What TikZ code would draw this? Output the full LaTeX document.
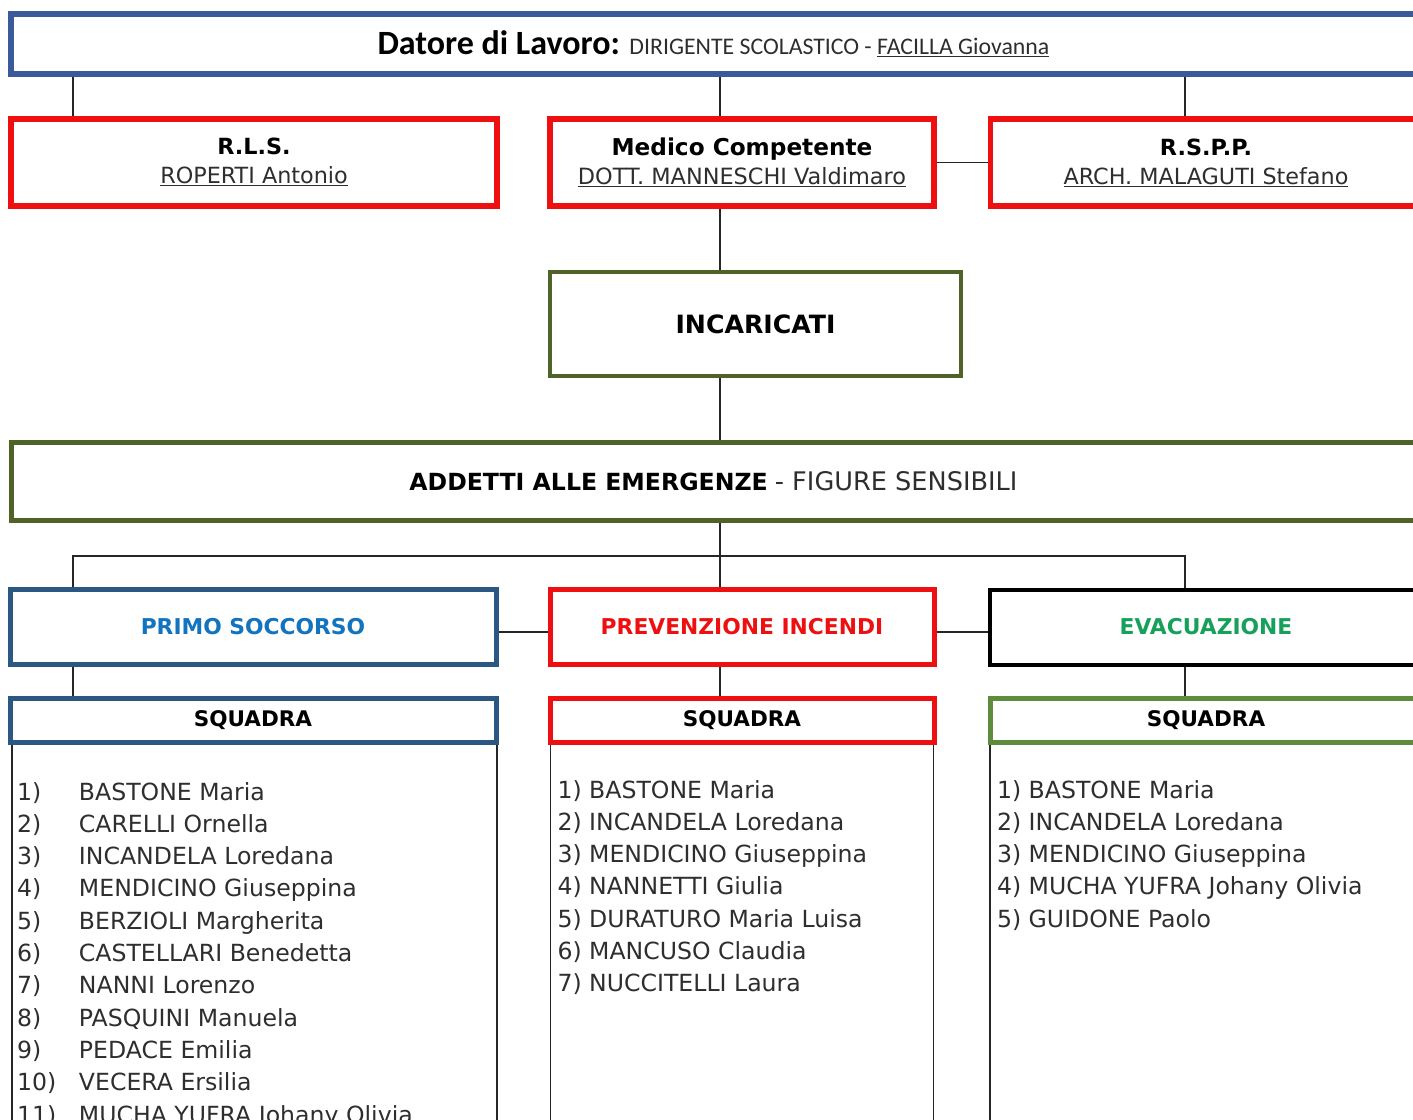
\documentclass[tikz,border=0pt]{standalone}
\usepackage{fontspec}
\setmainfont{DejaVu Sans}
\newfontfamily\calibri{Carlito}
\usetikzlibrary{positioning}
\definecolor{bossblue}{HTML}{3B5A9A}
\definecolor{alertred}{HTML}{EE1010}
\definecolor{olivegreen}{HTML}{4F6228}
\definecolor{firstaidblue}{HTML}{2B5783}
\definecolor{firstaidtext}{HTML}{1273BE}
\definecolor{evactext}{HTML}{16A05A}
\definecolor{teamgreen}{HTML}{5F8B3C}
\definecolor{namegray}{HTML}{2E2E2E}

\begin{document}
\begin{tikzpicture}[x=1pt, y=-1pt,
  font=\fontsize{22.3}{29}\selectfont,
  box/.style={draw, line width=5.5pt, align=center, inner sep=0pt, minimum height=87pt},
  head/.style={draw, line width=5pt, inner sep=0pt, minimum height=75pt,
    font=\bfseries\fontsize{21.8}{26}\selectfont},
  team/.style={draw, line width=5pt, inner sep=0pt, minimum height=44pt,
    font=\bfseries\fontsize{21.5}{26}\selectfont},
  roster/.style={inner sep=0pt, minimum height=600pt},
  names/.style={anchor=base west, inner sep=0pt, text=namegray,
    font=\fontsize{23.6}{32.3}\selectfont},
  link/.style={draw=black!85, line width=1.5pt}
]
\useasboundingbox (0,0) rectangle (1413,1119);
\clip (0,0) rectangle (1413,1119);

\coordinate (tapL) at (73,0);
\coordinate (spine) at (720,0);
\coordinate (tapR) at (1185,0);
\coordinate (bus) at (0,556);
\coordinate (rowB) at (0,632);

% top level
\node[box, draw=bossblue, line width=6pt, minimum width=1412pt, minimum height=60pt] (datore) at (717,44) {
  {\calibri\bfseries\fontsize{34}{40}\selectfont Datore di Lavoro:}
  {\calibri\fontsize{23.8}{28}\selectfont\color{namegray}DIRIGENTE SCOLASTICO - \underline{FACILLA Giovanna}}
};

\node[box, draw=alertred, minimum width=486pt, text depth=4pt] (rls) at (254,162.5) {
  \textbf{R.L.S.}\\
  {\color{namegray}\underline{ROPERTI Antonio}}
};
\node[box, draw=alertred, minimum width=384pt, font=\fontsize{22.4}{29}\selectfont] (medico) at (742,162.5) {
  {\bfseries\fontsize{23.2}{29}\selectfont Medico Competente}\\
  {\color{namegray}\underline{DOTT. MANNESCHI Valdimaro}}
};
\node[box, draw=alertred, minimum width=431pt] (rspp) at (1206,162.5) {
  \textbf{R.S.P.P.}\\
  {\color{namegray}\underline{ARCH. MALAGUTI Stefano}}
};

\node[box, draw=olivegreen, line width=4pt, minimum width=411pt, minimum height=104pt,
  font=\bfseries\fontsize{25.2}{30}\selectfont] (incaricati) at (755.5,324) {INCARICATI};

\node[box, draw=olivegreen, line width=5pt, minimum width=1412pt, minimum height=78pt] (addetti) at (717,481.5) {
  {\bfseries\fontsize{23.6}{28}\selectfont ADDETTI ALLE EMERGENZE}
  {\fontsize{25.6}{29}\selectfont\color{namegray}- FIGURE SENSIBILI}
};

% emergency groups
\node[head, draw=firstaidblue, text=firstaidtext, minimum width=486pt] (primo) at (253,627) {PRIMO SOCCORSO};
\node[head, draw=alertred, text=alertred, minimum width=384pt] (prev) at (742,627) {PREVENZIONE INCENDI};
\node[head, draw=black, line width=4pt, text=evactext, minimum width=432pt] (evac) at (1206,627) {EVACUAZIONE};

\node[team, draw=firstaidblue, minimum width=486pt] (psq) at (253,720.5) {SQUADRA};
\node[team, draw=alertred, minimum width=384pt] (pisq) at (742,720.5) {SQUADRA};
\node[team, draw=teamgreen, minimum width=432pt] (evsq) at (1206,720.5) {SQUADRA};

\node[roster, minimum width=485pt, below=0pt of psq, xshift=1.5pt] (pslist) {};
\node[roster, minimum width=383pt, below=0pt of pisq] (pilist) {};
\node[roster, minimum width=432pt, below=0pt of evsq] (evlist) {};
\draw[link] (pslist.north west) -- (pslist.south west) (pslist.north east) -- (pslist.south east);
\draw[link] (pilist.north west) -- (pilist.south west) (pilist.north east) -- (pilist.south east);
\draw[link] (evlist.north west) -- (evlist.south west) (evlist.north east) -- (evlist.south east);

\node[names] (psnames) at ([xshift=5pt, yshift=-55pt]pslist.north west) {%
  \begin{tabular}[t]{@{}p{62pt}@{}l@{}}
    1) & BASTONE Maria\\
    2) & CARELLI Ornella\\
    3) & INCANDELA Loredana\\
    4) & MENDICINO Giuseppina\\
    5) & BERZIOLI Margherita\\
    6) & CASTELLARI Benedetta\\
    7) & NANNI Lorenzo\\
    8) & PASQUINI Manuela\\
    9) & PEDACE Emilia\\
    10) & VECERA Ersilia\\
    11) & MUCHA YUFRA Johany Olivia
  \end{tabular}};
\node[names] (pinames) at ([xshift=7pt, yshift=-53pt]pilist.north west) {%
  \begin{tabular}[t]{@{}l@{}}
    1) BASTONE Maria\\
    2) INCANDELA Loredana\\
    3) MENDICINO Giuseppina\\
    4) NANNETTI Giulia\\
    5) DURATURO Maria Luisa\\
    6) MANCUSO Claudia\\
    7) NUCCITELLI Laura
  \end{tabular}};
\node[names] (evnames) at ([xshift=7pt, yshift=-53pt]evlist.north west) {%
  \begin{tabular}[t]{@{}l@{}}
    1) BASTONE Maria\\
    2) INCANDELA Loredana\\
    3) MENDICINO Giuseppina\\
    4) MUCHA YUFRA Johany Olivia\\
    5) GUIDONE Paolo
  \end{tabular}};

% connectors
\draw[link] (datore.south -| tapL) -- (rls.north -| tapL);
\draw[link] (datore.south -| spine) -- (medico.north -| spine);
\draw[link] (datore.south -| tapR) -- (rspp.north -| tapR);
\draw[link] (medico.east) -- (rspp.west);
\draw[link] (medico.south -| spine) -- (incaricati.north -| spine);
\draw[link] (incaricati.south -| spine) -- (addetti.north -| spine);
\draw[link] (addetti.south -| spine) -- (prev.north -| spine);
\draw[link] (primo.north -| tapL) -- (bus -| tapL) -- (bus -| tapR) -- (evac.north -| tapR);
\draw[link] (primo.east |- rowB) -- (prev.west |- rowB);
\draw[link] (prev.east |- rowB) -- (evac.west |- rowB);
\draw[link] (primo.south -| tapL) -- (psq.north -| tapL);
\draw[link] (prev.south -| spine) -- (pisq.north -| spine);
\draw[link] (evac.south -| tapR) -- (evsq.north -| tapR);
\end{tikzpicture}
\end{document}
